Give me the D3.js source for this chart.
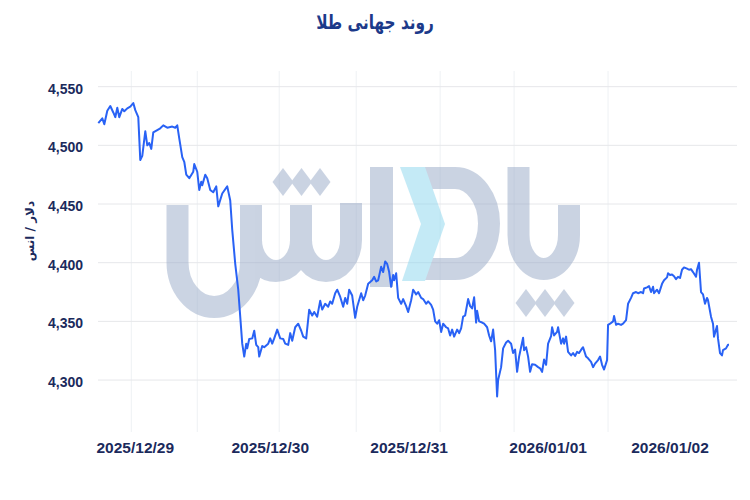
<!DOCTYPE html>
<html>
<head>
<meta charset="utf-8">
<script src="https://cdn.jsdelivr.net/npm/d3@7"></script>
<style>
  body { margin: 0; background: #fff; }
  svg { display: block; }
</style>
</head>
<body>
<svg id="chart" width="750" height="500"></svg>
<script>
// sample number (position in the series) and gold price
var sampleIdx = [0,4,6,9,12,15,17,19,21,24,26,29,32,35,37,40,42,44,47,49,51,53,55,59,62,65,69,74,77,79,81,84,86,88,91,95,96,99,101,103,104,107,109,112,115,118,120,
  124,129,132,134,137,140,142,144,146,148,149,151,154,156,158,160,161,164,166,170,172,174,176,179,182,185,187,190,192,194,197,200,203,205,208,211,214,216,219,222,224,227,230,232,234,237,239,242,
  245,247,249,251,254,257,259,263,265,267,270,274,276,278,280,283,285,287,289,291,293,295,296,298,300,303,305,308,310,313,315,318,320,323,325,328,330,333,335,337,339,341,343,345,348,350,352,354,356,359,361,363,365,367,
  370,372,374,376,378,379,381,384,386,389,391,393,395,397,399,400,403,405,408,410,413,415,417,419,421,423,425,426,428,430,432,434,437,440,442,444,446,448,450,453,454,456,459,460,463,465,466,468,470,473,475,477,479,481,484,485,488,490,493,495,497,
  500,502,504,506,509,510,512,515,516,518,520,523,525,528,530,533,535,538,540,543,545,546,549,551,553,555,556,559,561,564,566,569,570,572,574,576,578,580,582,584,586,589,591,593,595,598,599,601,603,605,607,609,610,613,615,616,619,620,622,624,625,628,630,631];

var goldPrice = [4519,4523,4518,4529.5,4533.5,4528,4524,4532,4524,4531,4529,4531.5,4533,4536,4530,4524,4487.5,4491,4512,4500,4502,4497,4511,4513,4514.5,4517,4515,4516,4515,4517,4506,4490,4486,4475,4472,4477.5,4484,4477.5,4462,4469,4466,4475,4472,4462,4460,4465,4448,
  4459,4465,4453,4428,4399,4377,4354,4331,4320,4331,4327,4335,4335.5,4342,4330,4328,4320,4329,4328,4331,4335.5,4331,4335.5,4343,4335.5,4335,4331,4330,4340,4333.5,4345,4348,4342,4337,4335.5,4360,4355,4358,4354,4367.5,4360,4365,4362.5,4367,4365,4374,4377,4371,
  4362.5,4370,4365,4377,4372,4353,4362.5,4374,4368,4372,4382,4385,4388,4384,4385,4396.5,4392,4401,4399,4392,4379.5,4389.5,4385,4391,4370,4365,4369,4363,4358,4368,4377,4373,4375,4370,4369,4365,4367,4364,4360,4350,4348,4351,4341,4348,4345,4344,4338,4343,4337,4343,4340,4344,4354,4355,
  4369,4363,4361,4370.5,4349,4359,4350,4349,4348,4345,4338,4333,4343,4325.5,4286,4300,4311,4327,4332,4333.5,4331,4323,4326,4307,4320,4328,4336,4325.5,4328,4320,4307,4313.5,4313,4311,4310,4307,4317.5,4313,4331,4337.5,4345,4338,4341,4345,4331,4335.5,4331,4337,4324,4321,4323,4320.5,4324,4323,4327,4328,4320,4318.5,4315.5,4311,4314,
  4317,4320,4313,4309,4317,4347,4348,4350,4354.5,4347,4348,4347,4348,4351,4365,4370,4374,4375,4374,4375,4374,4378,4379,4380,4375,4379.5,4374,4377,4374,4382,4385,4387.5,4391,4389.5,4390,4388.5,4386,4388,4387,4394,4396,4395,4394,4394.5,4392,4388,4394,4400,4375,4373,4365,4370,4368,4354,4348,4337,4346,4335.5,4323,4321,4325.5,4327,4330,4330];

var dayLabels = ["2025/12/29", "2025/12/30", "2025/12/31", "2026/01/01", "2026/01/02"];
var dayLabelIdx = [37, 172, 311, 450, 572];
var gridIdx = [33, 99, 181, 258, 342, 416, 510];
var yTicks = [4300, 4350, 4400, 4450, 4500, 4550];

var titleText = "روند جهانی طلا";
var yTitle = "دلار / انس";

var data = sampleIdx.map(function(d, i) { return { i: d, v: goldPrice[i] }; });

var svg = d3.select("#chart");
var navy = "#1b2a5c";

var x = d3.scaleLinear().domain([0, 631]).range([98.3, 729]);
var y = d3.scaleLinear().domain([4260, 4563]).range([427, 71.4]);

var gridLeft = 98, gridRight = 737, gridTop = 71, gridBottom = 432;

// grid
svg.append("g").selectAll("line")
    .data(gridIdx)
  .enter().append("line")
    .attr("x1", function(d) { return x(d); })
    .attr("x2", function(d) { return x(d); })
    .attr("y1", gridTop)
    .attr("y2", gridBottom)
    .attr("stroke", "#eef1f4")
    .attr("stroke-width", 1);

svg.append("g").selectAll("line")
    .data(yTicks)
  .enter().append("line")
    .attr("x1", gridLeft)
    .attr("x2", gridRight)
    .attr("y1", function(d) { return y(d); })
    .attr("y2", function(d) { return y(d); })
    .attr("stroke", "#e6e7ea")
    .attr("stroke-width", 1);

// watermark logo
var wm = svg.append("g").attr("opacity", 0.5);
var grey = "#97a9c7";
wm.append("path")
    .attr("d", "M177.5,205 V262 A36.75,45 0 0 0 251,262 V205 M251,240 A25,31 0 0 0 301,240 V205 M301,240 A25,31 0 0 0 351,240 V203")
    .attr("fill", "none").attr("stroke", grey).attr("stroke-width", 22);
wm.append("rect").attr("x", 370).attr("y", 167).attr("width", 23).attr("height", 120).attr("fill", grey);
wm.append("path")
    .attr("d", "M418,178 H455 A34,45.5 0 0 1 455,269 H418")
    .attr("fill", "none").attr("stroke", grey).attr("stroke-width", 22);
wm.append("path")
    .attr("d", "M518.5,167 V235 A25.25,34 0 0 0 569,235 V205")
    .attr("fill", "none").attr("stroke", grey).attr("stroke-width", 22);
function diamond(cx, cy) {
  return "M" + cx + "," + (cy - 14) + " L" + (cx + 10.5) + "," + cy + " L" + cx + "," + (cy + 14) + " L" + (cx - 10.5) + "," + cy + "Z";
}
[283, 301.5, 320].forEach(function(cx) {
  wm.append("path").attr("d", diamond(cx, 182)).attr("fill", grey);
});
[526, 545, 564].forEach(function(cx) {
  wm.append("path").attr("d", diamond(cx, 303)).attr("fill", grey);
});
wm.append("path")
    .attr("d", "M400,167 L425,167 L445,224 L425,281 L402,281 L421,224 Z")
    .attr("fill", "#8bd7ef");

// price line
var line = d3.line()
    .x(function(d) { return x(d.i); })
    .y(function(d) { return y(d.v); });

svg.append("path")
    .datum(data)
    .attr("d", line)
    .attr("fill", "none")
    .attr("stroke", "#2962f5")
    .attr("stroke-width", 2)
    .attr("stroke-linejoin", "round");

// y labels
var fmt = d3.format(",");
svg.append("g").selectAll("text")
    .data(yTicks)
  .enter().append("text")
    .attr("x", 83)
    .attr("y", function(d) { return y(d) + 2; })
    .attr("dy", "0.35em")
    .attr("text-anchor", "end")
    .attr("font-family", "'Liberation Sans', Arial, sans-serif")
    .attr("font-weight", "bold")
    .attr("font-size", 14)
    .attr("fill", navy)
    .text(function(d) { return fmt(d); });

// x labels
svg.append("g").selectAll("text")
    .data(dayLabels)
  .enter().append("text")
    .attr("x", function(d, i) { return x(dayLabelIdx[i]); })
    .attr("y", 453)
    .attr("text-anchor", "middle")
    .attr("font-family", "'Liberation Sans', Arial, sans-serif")
    .attr("font-weight", "bold")
    .attr("font-size", 15.5)
    .attr("fill", navy)
    .text(function(d) { return d; });

// titles
svg.append("text")
    .attr("transform", "translate(375,29) scale(0.85,1)")
    .attr("text-anchor", "middle")
    .attr("direction", "rtl")
    .attr("font-family", "'DejaVu Sans Condensed', 'DejaVu Sans', sans-serif")
    .attr("font-weight", "bold")
    .attr("font-size", 20)
    .attr("fill", "#1c3a8a")
    .text(titleText);

svg.append("text")
    .attr("transform", "translate(34,231) rotate(-90)")
    .attr("text-anchor", "middle")
    .attr("direction", "rtl")
    .attr("font-family", "'DejaVu Sans', sans-serif")
    .attr("font-weight", "bold")
    .attr("font-size", 12)
    .attr("fill", navy)
    .text(yTitle);
</script>
</body>
</html>
